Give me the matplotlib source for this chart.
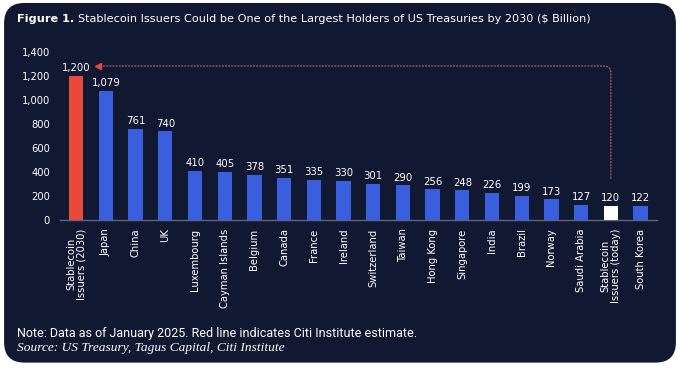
import matplotlib.pyplot as plt
import numpy as np
from matplotlib.patches import FancyBboxPatch

categories = ["Stablecoin\nIssuers (2030)", "Japan", "China", "UK", "Luxembourg",
              "Cayman Islands", "Belgium", "Canada", "France", "Ireland",
              "Switzerland", "Taiwan", "Hong Kong", "Singapore", "India", "Brazil",
              "Norway", "Saudi Arabia", "Stablecoin\nIssuers (today)", "South Korea"]
values = [1200, 1079, 761, 740, 410, 405, 378, 351, 335, 330,
          301, 290, 256, 248, 226, 199, 173, 127, 120, 122]
y_ticks = [0, 200, 400, 600, 800, 1000, 1200, 1400]

NAVY = "#111831"
BLUE = "#3a5fde"
RED = "#e9493a"
WHITE = "#ffffff"
DOT = "#b0566a"
FONT = "DejaVu Sans"
TITLE = "Stablecoin Issuers Could be One of the Largest Holders of US Treasuries by 2030 ($ Billion)"

bar_colors = [BLUE] * len(values)
bar_colors[0] = RED
bar_colors[categories.index("Stablecoin\nIssuers (today)")] = WHITE

fig = plt.figure(figsize=(6.8, 3.7), dpi=100, facecolor="white")
panel = FancyBboxPatch((0.006, 0.02), 0.988, 0.972,
                       boxstyle="round,pad=0,rounding_size=0.03",
                       transform=fig.transFigure, facecolor=NAVY,
                       edgecolor="none", mutation_aspect=680 / 370, zorder=-10)
fig.patches.append(panel)

ax = fig.add_axes([0.088, 0.405, 0.878, 0.454])
ax.set_facecolor("none")
x = np.arange(len(values))
ax.bar(x, values, width=0.48, color=bar_colors, zorder=3)

for xi, v in zip(x, values):
    ax.annotate(f"{v:,}", (xi, v), xytext=(0, 2), textcoords="offset points",
                ha="center", va="bottom", color=WHITE, fontsize=7.3, family=FONT)

# dotted line from today's holdings up to the 2030 estimate
today = categories.index("Stablecoin\nIssuers (today)")
line_y = values[0] + 85
ax.annotate("", xy=(0.9, line_y), xytext=(today, values[today] + 230),
            arrowprops=dict(arrowstyle="-", color=DOT, lw=0.9, linestyle=(0, (1, 1.5)),
                            connectionstyle="angle,angleA=90,angleB=0,rad=7",
                            shrinkA=0, shrinkB=0), zorder=4)
ax.plot([0.72], [line_y], marker="<", color=RED, markersize=4.5, zorder=5)

ax.set_xlim(-0.55, len(values) - 0.45)
ax.set_ylim(0, 1400)
ax.set_yticks(y_ticks)
ax.set_yticklabels([f"{t:,}" for t in y_ticks])
ax.set_xticks(x)
ax.set_xticklabels(categories, rotation=90, linespacing=1.05)
ax.tick_params(axis="both", length=0, colors=WHITE, labelsize=7.2)
ax.tick_params(axis="y", pad=7)
ax.tick_params(axis="x", pad=6)
for lbl in ax.get_xticklabels() + ax.get_yticklabels():
    lbl.set_family(FONT)
for side in ["top", "right", "left"]:
    ax.spines[side].set_visible(False)
ax.spines["bottom"].set_color("#5c6585")
ax.spines["bottom"].set_linewidth(1.0)

head = fig.text(0.025, 0.948, "Figure 1.", color=WHITE, fontsize=8.1, weight="bold",
                family=FONT, va="center")
ax.annotate(TITLE, xy=(1, 0.5), xycoords=head, xytext=(2.5, 0), textcoords="offset points",
            color=WHITE, fontsize=8.1, family=FONT, va="center", ha="left",
            annotation_clip=False)
fig.text(0.025, 0.1, "Note: Data as of January 2025. Red line indicates Citi Institute estimate.",
         color=WHITE, fontsize=9, family=["Liberation Sans Narrow", "Roboto"], va="center")
fig.text(0.025, 0.06, "Source: US Treasury, Tagus Capital, Citi Institute",
         color=WHITE, fontsize=9.6, style="italic", family="Liberation Serif", va="center")

fig.savefig("out.png", dpi=100, facecolor="white")
